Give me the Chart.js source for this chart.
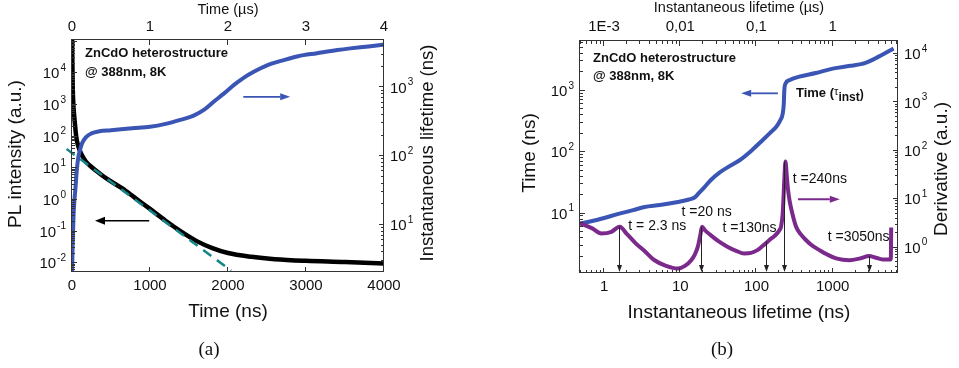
<!DOCTYPE html>
<html>
<head>
<meta charset="utf-8">
<title>ZnCdO heterostructure - PL decay and instantaneous lifetime</title>
<script src="https://cdn.jsdelivr.net/npm/chart.js@4.4.1/dist/chart.umd.min.js"></script>
<style>
  html, body { margin: 0; padding: 0; background: #fff; }
  #page { position: relative; width: 959px; height: 368px; overflow: hidden; }
  canvas { position: absolute; top: 0; }
  #chartA { left: 0; }
  #chartB { left: 480px; }
</style>
</head>
<body>
<div id="page">
  <canvas id="chartA" width="480" height="368"></canvas>
  <canvas id="chartB" width="479" height="368"></canvas>
</div>
<script>
// ---- panel (a): PL intensity and instantaneous lifetime vs time ----
const plTime = [0, 2, 5, 10, 20, 33, 54, 75, 96, 130, 181, 250, 350, 450, 645, 800, 1000, 1200, 1400, 1600, 1800, 2000, 2300, 2600, 3000, 3500, 4000];
const plIntensity = [1e6, 1e5, 2e4, 3000, 800, 336, 100, 55, 38, 25, 16, 11, 7, 4.6, 2.3, 1.2, 0.52, 0.22, 0.1, 0.05, 0.03, 0.021, 0.016, 0.0135, 0.012, 0.011, 0.0098];
const fitTime = [-70, 2040];
const fitIntensity = [40.7, 0.00585];
const lifeTime = [0, 10, 20, 30, 45, 60, 80, 100, 130, 180, 250, 350, 500, 772, 1000, 1200, 1400, 1560, 1700, 1816, 1950, 2073, 2200, 2330, 2500, 2714, 2900, 3141, 3400, 3568, 3800, 4000];
const lifeValue = [1.8, 6, 14, 22, 35, 60, 95, 120, 155, 190, 215, 230, 238, 255, 268, 295, 340, 390, 480, 620, 820, 1080, 1380, 1690, 2100, 2500, 2850, 3150, 3500, 3700, 3950, 4200];

const aBottomTicks = [0, 1000, 2000, 3000, 4000];
const aTopTicks = [0, 1, 2, 3, 4];
const aLeftExp = [-2, -1, 0, 1, 2, 3, 4];
const aRightExp = [1, 2, 3];

// ---- panel (b): time and derivative vs instantaneous lifetime ----
const tauTime = [0.483, 0.7, 1, 1.5, 2.4, 3.4, 5.4, 9.3, 13, 15.4, 17.5, 20.8, 25, 33, 45, 60, 85, 120, 150, 181, 205, 221, 228, 232, 240, 270, 365, 600, 1000, 1700, 2700, 4000, 6300];
const timeValue = [6.9, 7.6, 8.5, 9.8, 11.4, 12.8, 13.8, 15.5, 17.0, 18.3, 21.5, 27, 35, 47, 60, 74, 105, 157, 205, 258, 330, 425, 600, 1030, 1300, 1490, 1700, 1950, 2300, 2550, 2850, 3600, 4900];
const tauDeriv = [0.483, 0.7, 0.92, 1.25, 1.6, 2.0, 2.6, 3.4, 4.6, 6.5, 9.3, 11.5, 13.9, 15.5, 17, 18.3, 19.3, 21, 25, 32, 41.5, 55, 69, 85, 103, 120, 140, 148, 173, 200, 211, 221, 232, 240, 250, 258, 271, 300, 331, 380, 445, 540, 670, 850, 1110, 1660, 2300, 3000, 3700, 4500, 5800, 5830, 5860];
const derivValue = [3.2, 2.5, 1.97, 2.13, 2.7, 1.9, 1.23, 0.85, 0.55, 0.42, 0.37, 0.42, 0.55, 0.72, 1.05, 1.8, 2.7, 2.3, 1.82, 1.35, 1.05, 0.85, 0.76, 0.78, 0.89, 1.08, 1.32, 1.44, 1.75, 2.3, 2.8, 5.1, 25, 60, 30, 17, 9.6, 4.6, 2.7, 1.9, 1.44, 1.1, 0.89, 0.72, 0.6, 0.55, 0.6, 0.67, 0.62, 0.57, 0.57, 1.2, 2.6];
const peakTau = [1.6, 19.3, 137, 240, 3100];
const peakDeriv = [2.7, 2.7, 1.35, 60, 0.67];
const peakLabels = ['t = 2.3 ns', 't =20 ns', 't =130ns', 't =240ns', 't =3050ns'];
const peakLabelAt = [[2.08, 2.8], [10.4, 5.3], [35.7, 2.5], [300, 26], [860, 1.63]];

const bBottomTicks = [1, 10, 100, 1000];
const bTopTicks = [0.001, 0.01, 0.1, 1];
const bTopLabels = ['1E-3', '0,01', '0,1', '1'];
const bLeftExp = [1, 2, 3];
const bRightExp = [0, 1, 2, 3, 4];

const SANS = '"Liberation Sans", Arial, sans-serif';
const SERIF = '"Liberation Serif", "Times New Roman", serif';
const BLUE = '#3a55b4';
const PURPLE = '#7b2a8b';
const TEAL = '#15858a';

function pts(xs, ys) {
    return xs.map((x, i) => ({ x: x, y: ys[i] }));
}

function logTicks(min, max) {
    const major = [], minor = [];
    for (let e = Math.floor(Math.log10(min)); e <= Math.ceil(Math.log10(max)); e++) {
        for (let m = 1; m < 10; m++) {
            const v = m * Math.pow(10, e);
            if (v < min || v > max) continue;
            (m === 1 ? major : minor).push(v);
        }
    }
    return { major: major, minor: minor };
}

function linTicks(min, max, step) {
    const out = [];
    for (let v = Math.ceil(min / step) * step; v <= max + 1e-9; v += step) out.push(v);
    return out;
}

function tickMarks(ctx, a, scale, vals, side, len) {
    ctx.beginPath();
    vals.forEach(v => {
        const p = Math.round(scale.getPixelForValue(v)) - 0.5;
        if (side === 'bottom') { ctx.moveTo(p, a.bottom); ctx.lineTo(p, a.bottom - len); }
        if (side === 'top') { ctx.moveTo(p, a.top); ctx.lineTo(p, a.top + len); }
        if (side === 'left') { ctx.moveTo(a.left, p); ctx.lineTo(a.left + len, p); }
        if (side === 'right') { ctx.moveTo(a.right, p); ctx.lineTo(a.right - len, p); }
    });
    ctx.stroke();
}

function axisTicks(ctx, a, scale, side, log) {
    let t;
    if (log) {
        t = logTicks(scale.min, scale.max);
    } else {
        const step = scale.max > 100 ? 1000 : 1;
        t = { major: linTicks(scale.min, scale.max, step), minor: linTicks(scale.min + step / 2, scale.max, step) };
    }
    tickMarks(ctx, a, scale, t.major, side, 5);
    tickMarks(ctx, a, scale, t.minor, side, 3);
}

function text(ctx, str, x, y, font, align, color) {
    ctx.font = font;
    ctx.fillStyle = color || '#111';
    ctx.textAlign = align || 'center';
    ctx.textBaseline = 'middle';
    ctx.fillText(str, x, y);
}

function vtext(ctx, str, x, y, font) {
    ctx.save();
    ctx.translate(x, y);
    ctx.rotate(-Math.PI / 2);
    text(ctx, str, 0, 0, font, 'center');
    ctx.restore();
}

// "10" with a raised exponent, anchored on its left or right edge
function pow10(ctx, exp, x, y, align) {
    const base = '10', sup = String(exp);
    ctx.font = '15px ' + SANS;
    const wb = ctx.measureText(base).width;
    ctx.font = '10px ' + SANS;
    const ws = ctx.measureText(sup).width;
    const left = align === 'right' ? x - wb - ws - 1 : x;
    text(ctx, base, left, y + 1, '15px ' + SANS, 'left');
    text(ctx, sup, left + wb + 1, y - 5, '10px ' + SANS, 'left');
}

function arrow(ctx, x0, y0, x1, y1, color, lw, hl, hw) {
    const ang = Math.atan2(y1 - y0, x1 - x0);
    const c = Math.cos(ang), s = Math.sin(ang);
    const bx = x1 - hl * c, by = y1 - hl * s;
    ctx.strokeStyle = color;
    ctx.fillStyle = color;
    ctx.lineWidth = lw;
    ctx.beginPath();
    ctx.moveTo(x0, y0);
    ctx.lineTo(bx, by);
    ctx.stroke();
    ctx.beginPath();
    ctx.moveTo(x1, y1);
    ctx.lineTo(bx - hw * s, by + hw * c);
    ctx.lineTo(bx + hw * s, by - hw * c);
    ctx.closePath();
    ctx.fill();
}

function frame(ctx, a) {
    ctx.strokeStyle = '#333';
    ctx.lineWidth = 1;
    ctx.strokeRect(a.left - 0.5, a.top - 0.5, a.width, a.height);
}

// ---- panel (a) decorations ----
const decorA = {
    id: 'decorA',
    afterDatasetsDraw(chart) {
        const ctx = chart.ctx, a = chart.chartArea, s = chart.scales;
        ctx.save();

        arrow(ctx, s.x.getPixelForValue(990), s.y.getPixelForValue(0.22),
              s.x.getPixelForValue(295), s.y.getPixelForValue(0.22), '#000', 1.6, 10, 4);
        arrow(ctx, s.x.getPixelForValue(2196), s.y2.getPixelForValue(730),
              s.x.getPixelForValue(2797), s.y2.getPixelForValue(730), BLUE, 1.8, 10, 3.5);

        text(ctx, 'ZnCdO heterostructure', a.left + 13, a.top + 13.5, 'bold 13px ' + SANS, 'left');
        text(ctx, '@ 388nm, 8K', a.left + 13, a.top + 32, 'bold 13px ' + SANS, 'left');

        frame(ctx, a);
        ctx.strokeStyle = '#333';
        ctx.lineWidth = 1;
        axisTicks(ctx, a, s.x, 'bottom', false);
        axisTicks(ctx, a, s.x2, 'top', false);
        axisTicks(ctx, a, s.y, 'left', true);
        axisTicks(ctx, a, s.y2, 'right', true);

        aBottomTicks.forEach(v => text(ctx, String(v), s.x.getPixelForValue(v), a.bottom + 14, '15px ' + SANS));
        aTopTicks.forEach(v => text(ctx, String(v), s.x2.getPixelForValue(v), a.top - 13, '15px ' + SANS));
        aLeftExp.forEach(e => pow10(ctx, e, a.left - 6, s.y.getPixelForValue(Math.pow(10, e)), 'right'));
        aRightExp.forEach(e => pow10(ctx, e, a.right + 6, s.y2.getPixelForValue(Math.pow(10, e)), 'left'));

        text(ctx, 'Time (ns)', (a.left + a.right) / 2, a.bottom + 40, '19px ' + SANS);
        text(ctx, 'Time (\u00b5s)', (a.left + a.right) / 2, a.top - 30, '14.5px ' + SANS);
        vtext(ctx, 'PL intensity (a.u.)', a.left - 56, 154, '19px ' + SANS);
        vtext(ctx, 'Instantaneous lifetime (ns)', a.right + 44, 153, '18.5px ' + SANS);

        text(ctx, '(a)', 209, 350, '19px ' + SERIF);
        ctx.restore();
    }
};

// ---- panel (b) decorations ----
const decorB = {
    id: 'decorB',
    afterDatasetsDraw(chart) {
        const ctx = chart.ctx, a = chart.chartArea, s = chart.scales;
        ctx.save();

        peakTau.forEach((t, i) => {
            const px = Math.round(s.x.getPixelForValue(t)) - 0.5;
            arrow(ctx, px, s.y2.getPixelForValue(peakDeriv[i]), px, a.bottom - 1, '#222', 1, 7, 2.5);
        });
        arrow(ctx, s.x.getPixelForValue(191), s.y.getPixelForValue(910),
              s.x.getPixelForValue(63), s.y.getPixelForValue(910), BLUE, 1.8, 10, 3.5);
        arrow(ctx, s.x.getPixelForValue(350), s.y2.getPixelForValue(10),
              s.x.getPixelForValue(1240), s.y2.getPixelForValue(10), PURPLE, 1.8, 10, 3.5);

        peakLabels.forEach((lab, i) => {
            text(ctx, lab, s.x.getPixelForValue(peakLabelAt[i][0]), s.y2.getPixelForValue(peakLabelAt[i][1]), '14px ' + SANS, 'left');
        });

        text(ctx, 'ZnCdO heterostructure', a.left + 13, a.top + 17, 'bold 13px ' + SANS, 'left');
        text(ctx, '@ 388nm, 8K', a.left + 13, a.top + 35, 'bold 13px ' + SANS, 'left');

        // Time (tau_inst) label
        let tx = s.x.getPixelForValue(330);
        const ty = s.y.getPixelForValue(910);
        const parts = [['Time (', 'bold 13px ' + SANS, 0], ['\u03c4', '11px ' + SANS, -1], ['inst', 'bold 12px ' + SANS, 4], [')', 'bold 12px ' + SANS, 1]];
        parts.forEach(p => {
            text(ctx, p[0], tx, ty + p[2], p[1], 'left');
            tx += ctx.measureText(p[0]).width;
        });

        frame(ctx, a);
        ctx.strokeStyle = '#333';
        ctx.lineWidth = 1;
        axisTicks(ctx, a, s.x, 'bottom', true);
        axisTicks(ctx, a, s.x2, 'top', true);
        axisTicks(ctx, a, s.y, 'left', true);
        axisTicks(ctx, a, s.y2, 'right', true);

        bBottomTicks.forEach(v => text(ctx, String(v), s.x.getPixelForValue(v), a.bottom + 14, '15px ' + SANS));
        bTopTicks.forEach((v, i) => text(ctx, bTopLabels[i], s.x2.getPixelForValue(v), a.top - 14, '15px ' + SANS));
        bLeftExp.forEach(e => pow10(ctx, e, a.left - 6, s.y.getPixelForValue(Math.pow(10, e)), 'right'));
        bRightExp.forEach(e => pow10(ctx, e, a.right + 6, s.y2.getPixelForValue(Math.pow(10, e)), 'left'));

        text(ctx, 'Instantaneous lifetime (ns)', (a.left + a.right) / 2, a.bottom + 40, '19px ' + SANS);
        text(ctx, 'Instantaneous lifetime (\u00b5s)', (a.left + a.right) / 2, a.top - 33, '14.5px ' + SANS);
        vtext(ctx, 'Time (ns)', a.left - 50, 153, '19px ' + SANS);
        vtext(ctx, 'Derivative (a.u.)', a.right + 44, 169, '19px ' + SANS);

        text(ctx, '(b)', 242, 350, '19px ' + SERIF);
        ctx.restore();
    }
};

const common = {
    responsive: false,
    animation: false,
    devicePixelRatio: 1,
    events: [],
    plugins: { legend: { display: false }, tooltip: { enabled: false } },
    elements: { point: { radius: 0 }, line: { cubicInterpolationMode: 'monotone' } }
};

function curve(data, color, width, yAxis, extra) {
    return Object.assign({
        data: data,
        borderColor: color,
        borderWidth: width,
        showLine: true,
        fill: false,
        pointRadius: 0,
        xAxisID: 'x',
        yAxisID: yAxis
    }, extra || {});
}

new Chart(document.getElementById('chartA'), {
    type: 'scatter',
    data: {
        datasets: [
            curve(pts(lifeTime, lifeValue), BLUE, 4, 'y2'),
            curve(pts(fitTime, fitIntensity), TEAL, 2.5, 'y', { borderDash: [10, 7], clip: { left: 6, top: 0, right: 0, bottom: 0 } }),
            curve(pts(plTime, plIntensity), '#000', 4.5, 'y')
        ]
    },
    options: Object.assign({}, common, {
        layout: { padding: { left: 72, right: 96, top: 40, bottom: 96 } },
        scales: {
            x: { type: 'linear', position: 'bottom', min: 0, max: 4000, display: false },
            x2: { type: 'linear', position: 'top', min: 0, max: 4, display: false },
            y: { type: 'logarithmic', position: 'left', min: 0.0053, max: 112000, display: false },
            y2: { type: 'logarithmic', position: 'right', min: 2.07, max: 4900, display: false }
        }
    }),
    plugins: [decorA]
});

new Chart(document.getElementById('chartB'), {
    type: 'scatter',
    data: {
        datasets: [
            curve(pts(tauDeriv, derivValue), PURPLE, 4, 'y2'),
            curve(pts(tauTime, timeValue), BLUE, 4, 'y')
        ]
    },
    options: Object.assign({}, common, {
        layout: { padding: { left: 100, right: 61, top: 41, bottom: 95 } },
        scales: {
            x: { type: 'logarithmic', position: 'bottom', min: 0.483, max: 7200, display: false },
            x2: { type: 'logarithmic', position: 'top', min: 0.000483, max: 7.2, display: false },
            y: { type: 'logarithmic', position: 'left', min: 1.08, max: 6470, display: false },
            y2: { type: 'logarithmic', position: 'right', min: 0.306, max: 18500, display: false }
        }
    }),
    plugins: [decorB]
});
</script>
</body>
</html>
